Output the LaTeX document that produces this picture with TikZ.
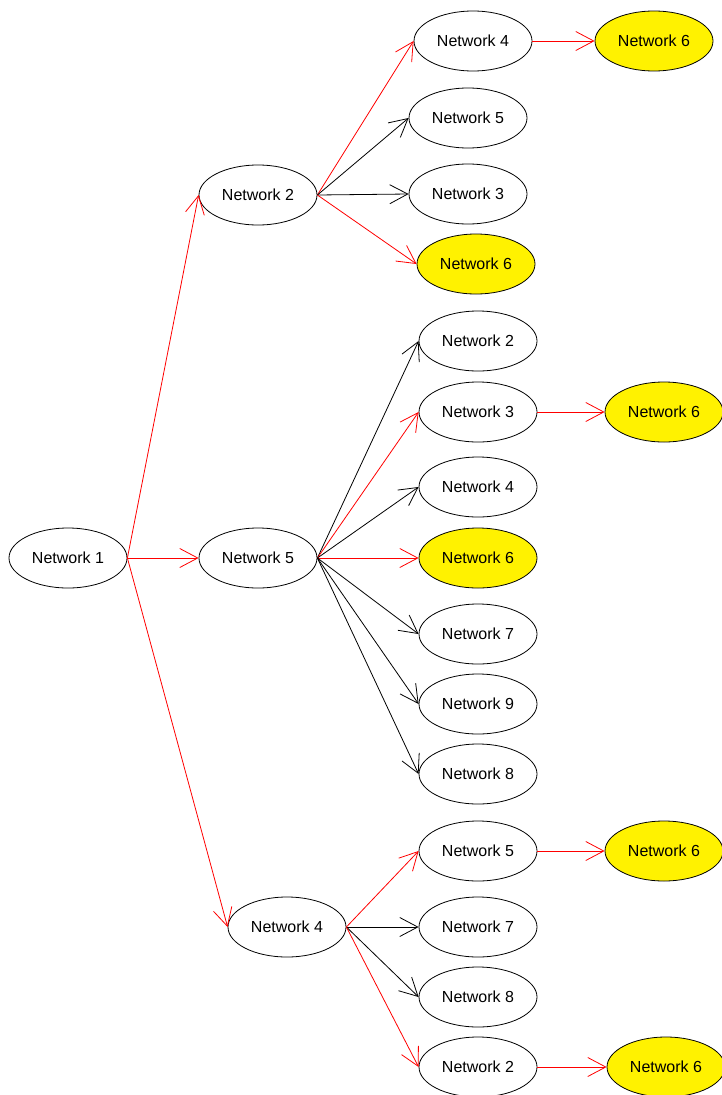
\documentclass[tikz,border=0pt]{standalone}
\usepackage{fontspec}
\setmainfont{Liberation Sans}
\usepackage{tikz}
\usetikzlibrary{shapes.geometric, arrows.meta}
\tikzset{
  net/.style={
    ellipse, draw=black, fill=white, line width=0.8pt,
    minimum width=118pt, minimum height=60pt, inner sep=0pt,
    text centered, font=\fontsize{16}{19}\selectfont
  },
  goal/.style={net, fill=yellow},
  link/.style={line width=0.8pt, -{Straight Barb[length=18pt,width=19pt]}, color=black},
  redlink/.style={link, color=red},
}

\begin{document}
\begin{tikzpicture}[x=1pt, y=-1pt]
  \useasboundingbox (0,0) rectangle (721,1095);
  % first level
  \node (n1) [net]  at (68,558)  {Network 1};
  \node (n2) [net]  at (258,195) {Network 2};
  \node (n5) [net]  at (258,558) {Network 5};
  \node (n4) [net]  at (287,927) {Network 4};
  % branch from Network 2
  \node (n2-4)   [net]  at (473,41)  {Network 4};
  \node (n2-4-6) [goal] at (654,41)  {Network 6};
  \node (n2-5)   [net]  at (468,118) {Network 5};
  \node (n2-3)   [net]  at (468,194) {Network 3};
  \node (n2-6)   [goal] at (476,264) {Network 6};
  % branch from Network 5
  \node (n5-2)   [net]  at (478,341) {Network 2};
  \node (n5-3)   [net]  at (478,412) {Network 3};
  \node (n5-3-6) [goal] at (664,412) {Network 6};
  \node (n5-4)   [net]  at (478,487) {Network 4};
  \node (n5-6)   [goal] at (478,558) {Network 6};
  \node (n5-7)   [net]  at (478,634) {Network 7};
  \node (n5-9)   [net]  at (478,704) {Network 9};
  \node (n5-8)   [net]  at (478,774) {Network 8};
  % branch from Network 4
  \node (n4-5)   [net]  at (478,851)  {Network 5};
  \node (n4-5-6) [goal] at (664,851)  {Network 6};
  \node (n4-7)   [net]  at (478,927)  {Network 7};
  \node (n4-8)   [net]  at (478,997)  {Network 8};
  \node (n4-2)   [net]  at (478,1067) {Network 2};
  \node (n4-2-6) [goal] at (666,1067) {Network 6};

  \draw [redlink] (n1.east) -- (n2.west);
  \draw [redlink] (n1.east) -- (n5.west);
  \draw [redlink] (n1.east) -- (n4.west);

  \draw [redlink] (n2.east)   -- (n2-4.west);
  \draw [redlink] (n2-4.east) -- (n2-4-6.west);
  \draw [link]    (n2.east)   -- (n2-5.west);
  \draw [link]    (n2.east)   -- (n2-3.west);
  \draw [redlink] (n2.east)   -- (n2-6.west);

  \draw [link]    (n5.east)   -- (n5-2.west);
  \draw [redlink] (n5.east)   -- (n5-3.west);
  \draw [redlink] (n5-3.east) -- (n5-3-6.west);
  \draw [link]    (n5.east)   -- (n5-4.west);
  \draw [redlink] (n5.east)   -- (n5-6.west);
  \draw [link]    (n5.east)   -- (n5-7.west);
  \draw [link]    (n5.east)   -- (n5-9.west);
  \draw [link]    (n5.east)   -- (n5-8.west);

  \draw [redlink] (n4.east)   -- (n4-5.west);
  \draw [redlink] (n4-5.east) -- (n4-5-6.west);
  \draw [link]    (n4.east)   -- (n4-7.west);
  \draw [link]    (n4.east)   -- (n4-8.west);
  \draw [redlink] (n4.east)   -- (n4-2.west);
  \draw [redlink] (n4-2.east) -- (n4-2-6.west);
\end{tikzpicture}
\end{document}
